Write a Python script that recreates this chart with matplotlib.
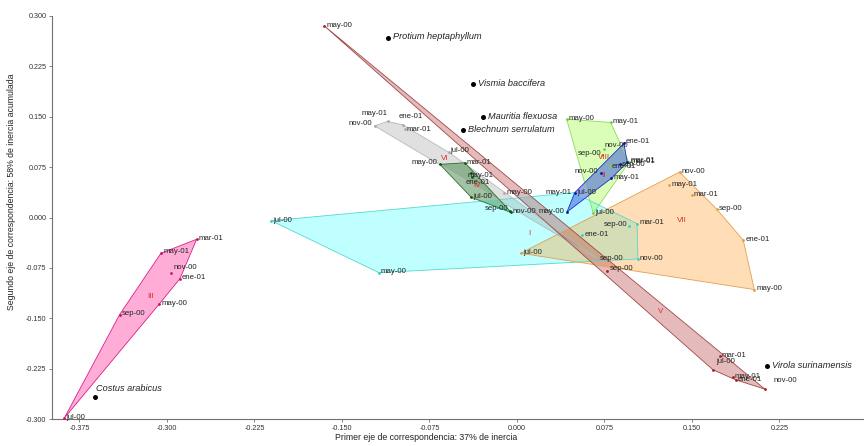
import matplotlib
matplotlib.use("Agg")
import matplotlib.pyplot as plt
from matplotlib.patches import Polygon

plt.rcParams['font.family'] = ['Liberation Sans', 'DejaVu Sans']

months = ["may-00", "jul-00", "sep-00", "nov-00", "ene-01", "mar-01", "may-01"]

# Group coordinates (first axis, second axis), in the order of `months`
g_I_x = [-0.1183, -0.2105, 0.0962, 0.1037, 0.0561, 0.1030, 0.0486]
g_I_y = [-0.0821, -0.0048, -0.0131, -0.0617, -0.0260, -0.0092, 0.0369]

g_II_x = [0.0429, 0.0495, 0.0883, 0.0717, 0.0917, 0.0946, 0.0809]
g_II_y = [0.0082, 0.0369, 0.0795, 0.0657, 0.1103, 0.0821, 0.0583]

g_III_x = [-0.3065, -0.3879, -0.3405, -0.2965, -0.2888, -0.2745, -0.3051]
g_III_y = [-0.1286, -0.2985, -0.1445, -0.0829, -0.0910, -0.0324, -0.0532]

g_IV_x = [-0.0660, -0.0391, -0.0060, -0.0054, -0.0382, -0.0446, -0.0391]
g_IV_y = [0.0791, 0.0300, 0.0097, 0.0077, 0.0607, 0.0815, 0.0657]

g_V_x = [-0.1650, 0.1680, 0.0775, 0.2125, 0.1874, 0.1737, 0.1851]
g_V_y = [0.2851, -0.2267, -0.0800, -0.2555, -0.2416, -0.2069, -0.2371]

g_VI_x = [-0.0111, -0.0583, 0.0692, -0.1220, -0.0979, -0.0962, -0.1108]
g_VI_y = [0.0369, 0.0969, -0.0617, 0.1365, 0.1380, 0.1316, 0.1430]

g_VII_x = [0.2035, 0.0032, 0.1714, 0.1394, 0.1940, 0.1497, 0.1303]
g_VII_y = [-0.1073, -0.0532, 0.0122, 0.0676, -0.0339, 0.0330, 0.0483]

g_VIII_x = [0.0426, 0.0655, 0.0732, 0.0746, 0.0797, 0.0960, 0.0803]
g_VIII_y = [0.1464, 0.0062, 0.0929, 0.1014, 0.0780, 0.0821, 0.1415]

group_names = ["I", "III", "VII", "VIII", "II", "VI", "IV", "V"]
group_label_x = {"I": 0.0109, "II": 0.0740, "III": -0.3142, "IV": -0.0339,
                 "V": 0.1232, "VI": -0.0617, "VII": 0.1418, "VIII": 0.0746}
group_label_y = {"I": -0.0235, "II": 0.0632, "III": -0.1182, "IV": 0.0483,
                 "V": -0.1405, "VI": 0.0880, "VII": -0.0048, "VIII": 0.0895}

species = ["Protium heptaphyllum", "Vismia baccifera", "Mauritia flexuosa",
           "Blechnum serrulatum", "Costus arabicus", "Virola surinamensis"]
species_x = [-0.1108, -0.0380, -0.0294, -0.0465, -0.3617, 0.2143]
species_y = [0.2679, 0.1985, 0.1490, 0.1300, -0.2673, -0.2218]

x_ticks = [-0.375, -0.300, -0.225, -0.150, -0.075, 0.000, 0.075, 0.150, 0.225]
y_ticks = [-0.300, -0.225, -0.150, -0.075, 0.000, 0.075, 0.150, 0.225, 0.300]

groups = {
    "I": (g_I_x, g_I_y), "II": (g_II_x, g_II_y), "III": (g_III_x, g_III_y),
    "IV": (g_IV_x, g_IV_y), "V": (g_V_x, g_V_y), "VI": (g_VI_x, g_VI_y),
    "VII": (g_VII_x, g_VII_y), "VIII": (g_VIII_x, g_VIII_y),
}

# styles
styles = {
    "I":    dict(face="#00FFFF", alpha=0.25, edge="#55D8CC", pt="#3CCFBF"),
    "II":   dict(face="#1E3CE0", alpha=0.45, edge="#2030C0", pt="#0010B0"),
    "III":  dict(face="#FF3399", alpha=0.40, edge="#D8208C", pt="#C8106E"),
    "IV":   dict(face="#2E7D32", alpha=0.45, edge="#2E6E2E", pt="#0A5A0A"),
    "V":    dict(face="#B03030", alpha=0.33, edge="#A04848", pt="#A81C28"),
    "VI":   dict(face="#9A9A9A", alpha=0.30, edge="#B8B8B8", pt="#A8A8A8"),
    "VII":  dict(face="#FFA030", alpha=0.35, edge="#E0A050", pt="#E0A040"),
    "VIII": dict(face="#7CFC00", alpha=0.28, edge="#90D860", pt="#80CC40"),
}

# label placement: (dx, dy in points, ha)
default_off = (1.5, 0.5, "left")
label_off = {
    ("I", "sep-00"): (-1.5, 1.5, "right"),
    ("I", "may-01"): (-1.5, 0.5, "right"),
    ("II", "may-00"): (-1.5, 0.5, "right"),
    ("II", "nov-00"): (-1.5, 1.0, "right"),
    ("II", "sep-00"): (1.5, 0.0, "left"),
    ("II", "mar-01"): (2.5, 1.5, "left"),
    ("II", "ene-01"): (1.5, 1.5, "left"),
    ("VI", "nov-00"): (-2, 1.5, "right"),
    ("VI", "may-01"): (0, 5.5, "right"),
    ("VI", "ene-01"): (-3, 6.0, "left"),
    ("VI", "mar-01"): (1.5, -0.5, "left"),
    ("VI", "jul-00"): (1, 1.5, "left"),
    ("IV", "may-00"): (-2, 1.5, "right"),
    ("IV", "sep-00"): (-1, 1.5, "right"),
    ("IV", "may-01"): (-3, -1.5, "left"),
    ("IV", "ene-01"): (-5, -4.0, "left"),
    ("VIII", "sep-00"): (-1, 1.0, "right"),
    ("VIII", "nov-00"): (0.5, 2.5, "left"),
    ("VIII", "ene-01"): (1.5, -1.0, "left"),
    ("V", "nov-00"): (6, 6.0, "left"),
    ("V", "jul-00"): (2.5, 6.0, "left"),
    ("V", "mar-01"): (1.5, 1.0, "left"),
    ("V", "sep-00"): (1.5, 2.0, "left"),
    ("III", "nov-00"): (1.5, 4.0, "left"),
    ("III", "may-01"): (1.5, 1.0, "left"),
}


def convex_hull(pts):
    pts = sorted(set(pts))
    if len(pts) <= 2:
        return pts

    def cross(o, a, b):
        return (a[0] - o[0]) * (b[1] - o[1]) - (a[1] - o[1]) * (b[0] - o[0])
    lower, upper = [], []
    for p in pts:
        while len(lower) >= 2 and cross(lower[-2], lower[-1], p) <= 0:
            lower.pop()
        lower.append(p)
    for p in reversed(pts):
        while len(upper) >= 2 and cross(upper[-2], upper[-1], p) <= 0:
            upper.pop()
        upper.append(p)
    return lower[:-1] + upper[:-1]


W, H = 864, 446
fig = plt.figure(figsize=(W / 100, H / 100), dpi=100)
ax = fig.add_axes([52 / W, 1 - 419 / H, (W - 52) / W, (419 - 16) / H])
ax.set_xlim(-0.3985, 0.2975)
ax.set_ylim(-0.300, 0.300)

for name in group_names:
    gx, gy = groups[name]
    st = styles[name]
    hull = convex_hull(list(zip(gx, gy)))
    ax.add_patch(Polygon(hull, closed=True, facecolor=st["face"], alpha=st["alpha"],
                         edgecolor="none", zorder=2))
    ax.add_patch(Polygon(hull, closed=True, facecolor="none", edgecolor=st["edge"],
                         linewidth=0.6, zorder=3))

for name in group_names:
    gx, gy = groups[name]
    st = styles[name]
    ax.plot(gx, gy, "o", markersize=2.0, color=st["pt"], markeredgewidth=0, zorder=4)
    for m, x, y in zip(months, gx, gy):
        dx, dy, ha = label_off.get((name, m), default_off)
        ax.annotate(m, (x, y), xytext=(dx, dy), textcoords="offset points",
                    ha=ha, va="center", fontsize=5.6, color="#222222", zorder=5)
    ax.text(group_label_x[name], group_label_y[name], name, color="#E02828",
            fontsize=5.8, ha="center", va="center", zorder=5)

ax.plot(species_x, species_y, "o", markersize=3.6, color="black",
        markeredgewidth=0, zorder=6)
for s, x, y in zip(species, species_x, species_y):
    if s == "Costus arabicus":
        ax.annotate(s, (x, y), xytext=(0.5, 6), textcoords="offset points",
                    ha="left", va="center", fontsize=6.6, style="italic",
                    color="#222222", zorder=6)
    else:
        ax.annotate(s, (x, y), xytext=(4, 0.5), textcoords="offset points",
                    ha="left", va="center", fontsize=6.6, style="italic",
                    color="#222222", zorder=6)

for side in ["top", "right"]:
    ax.spines[side].set_visible(False)
for side in ["left", "bottom"]:
    ax.spines[side].set_color("#707070")
    ax.spines[side].set_linewidth(0.8)

ax.set_xticks(x_ticks)
ax.set_yticks(y_ticks)
ax.set_xticklabels([f"{v:.3f}" for v in x_ticks])
ax.set_yticklabels([f"{v:.3f}" for v in y_ticks])
ax.tick_params(axis="both", length=2, width=0.6, color="#707070",
               labelsize=5.2, labelcolor="#333333", pad=2)

ax.set_xlabel("Primer eje de correspondencia: 37% de inercia", fontsize=6.3,
              color="#222222")
ax.set_ylabel("Segundo eje de correspondencia: 58% de inercia acumulada",
              fontsize=6.3, color="#222222")
ax.xaxis.set_label_coords((426.5 - 52) / (W - 52), -(437 - 419) / 403)
ax.yaxis.set_label_coords(-(52 - 12) / (W - 52), (419 - 191.7) / 403)
ax.xaxis.label.set_va("center")
ax.yaxis.label.set_va("center")

fig.savefig("out.png", dpi=100)
